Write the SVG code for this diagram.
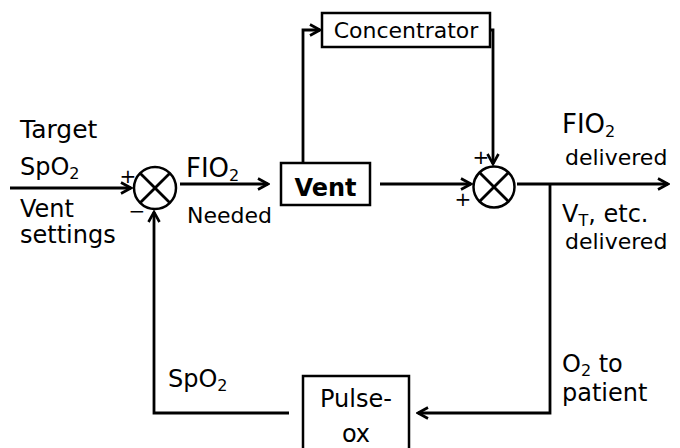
<svg xmlns="http://www.w3.org/2000/svg" width="680" height="448" viewBox="0 0 680 448">
<style>
text{font-family:"DejaVu Sans","Liberation Sans",sans-serif;fill:#000}
.lbl{font-size:24px}
.sm{font-size:22px}
.fio{font-size:26px}
.sub{font-size:16px}
.sign{font-size:20px}
.box{fill:#fff;stroke:#000;stroke-width:2.5}
.sum{fill:#fff;stroke:#000;stroke-width:2.5}
.ln{fill:none;stroke:#000;stroke-width:2.8}
</style>
<defs>
<marker id="ah" markerUnits="userSpaceOnUse" viewBox="0 0 14 14" refX="12" refY="7" markerWidth="14" markerHeight="14" orient="auto">
<path d="M2,1.5 L12,7 L2,12.5" fill="none" stroke="#000" stroke-width="2.6"/>
</marker>
</defs>
<g id="connectors">
<line class="ln" x1="10" y1="188" x2="131" y2="188" marker-end="url(#ah)"/>
<line class="ln" x1="180" y1="184" x2="268" y2="184" marker-end="url(#ah)"/>
<polyline class="ln" points="303,163 303,30 320,30" marker-end="url(#ah)"/>
<polyline class="ln" points="490,30 493,30 493,164" marker-end="url(#ah)"/>
<line class="ln" x1="380" y1="184" x2="471" y2="184" marker-end="url(#ah)"/>
<line class="ln" x1="517" y1="184" x2="668" y2="184" marker-end="url(#ah)"/>
<polyline class="ln" points="550,184 550,413 418,413" marker-end="url(#ah)"/>
<polyline class="ln" points="289,413 154,413 154,212" marker-end="url(#ah)"/>
</g>
<g id="sum1">
<circle class="sum" cx="155" cy="188" r="21"/>
<line class="ln" stroke-width="2.5" x1="140.2" y1="173.2" x2="169.8" y2="202.8"/>
<line class="ln" stroke-width="2.5" x1="169.8" y1="173.2" x2="140.2" y2="202.8"/>
<text class="sign" x="128" y="183" text-anchor="middle">+</text>
<text class="sign" x="137" y="218" text-anchor="middle">−</text>
</g>
<g id="sum2">
<circle class="sum" cx="494" cy="187" r="20.5"/>
<line class="ln" stroke-width="2.5" x1="479.5" y1="172.5" x2="508.5" y2="201.5"/>
<line class="ln" stroke-width="2.5" x1="508.5" y1="172.5" x2="479.5" y2="201.5"/>
<text class="sign" x="481" y="164" text-anchor="middle">+</text>
<text class="sign" x="463" y="206" text-anchor="middle">+</text>
</g>
<g id="vent">
<rect class="box" x="281" y="163" width="89" height="42"/>
<text x="325.5" y="196" text-anchor="middle" style="font-size:24px;font-weight:bold">Vent</text>
</g>
<g id="concentrator">
<rect class="box" x="322" y="13" width="168" height="34"/>
<text class="sm" x="406" y="38" text-anchor="middle">Concentrator</text>
</g>
<g id="pulseox">
<rect class="box" x="303" y="376" width="106" height="80"/>
<text x="356" y="407" text-anchor="middle" style="font-size:24px">Pulse-</text>
<text x="356" y="442" text-anchor="middle" style="font-size:24px">ox</text>
</g>
<g id="labels">
<text x="20" y="138" style="font-size:25px">Target</text>
<text class="lbl" x="20" y="175">SpO<tspan class="sub" dy="4">2</tspan></text>
<text class="lbl" x="20" y="217">Vent</text>
<text class="lbl" x="20" y="243">settings</text>
<text class="fio" x="186" y="177">FIO<tspan class="sub" dy="4">2</tspan></text>
<text class="sm" x="187" y="223">Needed</text>
<text class="fio" x="562" y="133">FIO<tspan class="sub" dy="4">2</tspan></text>
<text class="sm" x="565" y="165">delivered</text>
<text class="lbl" x="562" y="222">V<tspan class="sub" dy="4">T</tspan><tspan dy="-4">, etc.</tspan></text>
<text class="sm" x="565" y="249">delivered</text>
<text class="lbl" x="562" y="372">O<tspan class="sub" dy="4">2</tspan><tspan dy="-4"> to</tspan></text>
<text class="lbl" x="562" y="401">patient</text>
<text class="lbl" x="168" y="387">SpO<tspan class="sub" dy="4">2</tspan></text>
</g>
</svg>
